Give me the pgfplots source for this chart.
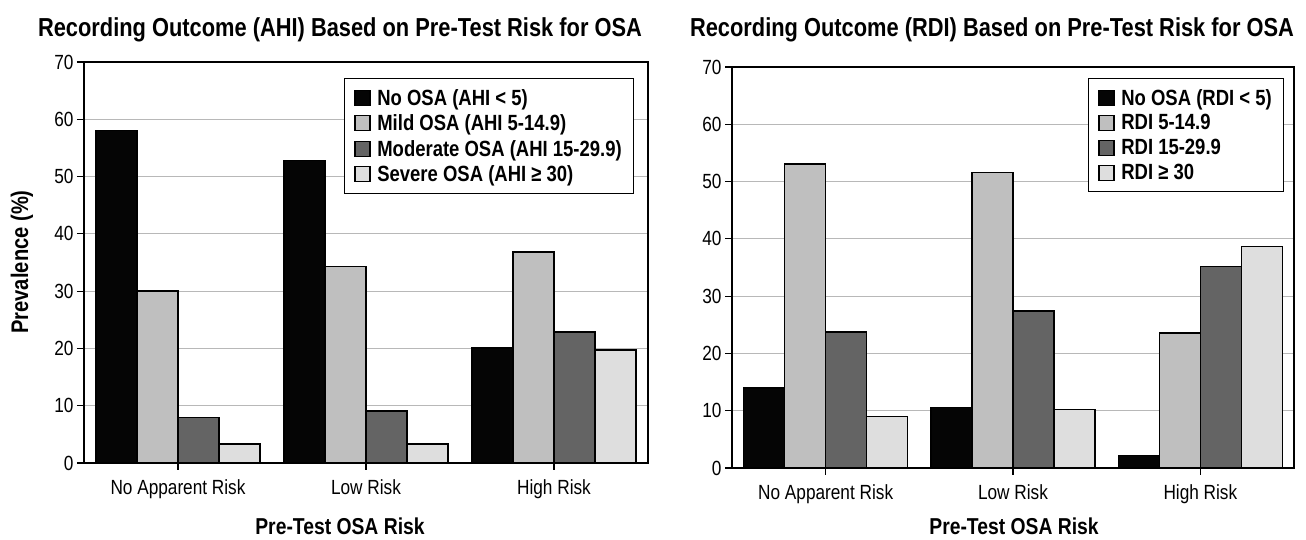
\documentclass[border=0pt]{standalone}
\usepackage{pgfplots}
\pgfplotsset{compat=1.18}
\usepackage{fontspec}
\setmainfont{Liberation Sans}[FakeStretch=0.84]
\definecolor{cNo}{HTML}{050505}
\definecolor{cMild}{HTML}{BFBFBF}
\definecolor{cMod}{HTML}{646464}
\definecolor{cSev}{HTML}{DEDEDE}
\pgfplotsset{
  sqlegend/.style={legend image code/.code={\draw[##1, line width=1.2pt] (0pt,-7.5pt) rectangle (15pt,7.5pt); \path (20pt,0pt);}},
  mystyle/.style={
    scale only axis, anchor=south west, height=401pt,
    xmin=-0.5, xmax=2.5, ymin=0, ymax=70, enlargelimits=false,
    ybar=0pt, bar width=41pt,
    xtick={0,1,2}, xticklabels={No Apparent Risk, Low Risk, High Risk},
    ytick={0,10,...,70},
    tick align=outside, xtick pos=bottom, ytick pos=left,
    major tick length=7pt,
    tick style={black, line width=1.2pt},
    axis line style={black, line width=2pt},
    ymajorgrids, grid style={color=black!28, line width=1.2pt},
    ticklabel style={font=\fontsize{20.5}{24}\selectfont},
    xticklabel style={yshift=-6pt},
    /pgf/number format/assume math mode=true,
    every axis plot post/.append style={sqlegend},
    legend cell align=left,
    legend style={draw=black, line width=1.3pt, fill=white,
      font=\bfseries\fontsize{22}{25}\selectfont,
      inner xsep=10pt, inner ysep=9pt, row sep=5pt,
      nodes={inner sep=1.5pt}},
  }
}
\begin{document}
\begin{tikzpicture}
\useasboundingbox (0,0) rectangle (1306pt,540pt);
% ---------- left chart ----------
\begin{axis}[mystyle, at={(84pt,77pt)}, width=564pt,
  legend style={at={(0.975,0.96)}, anchor=north east}]
\addplot[fill=cNo, draw=black, line width=1.5pt] coordinates {(0,58.0) (1,52.8) (2,20.1)};
\addplot[fill=cMild, draw=black, line width=1.5pt] coordinates {(0,30.0) (1,34.3) (2,36.8)};
\addplot[fill=cMod, draw=black, line width=1.5pt] coordinates {(0,7.9) (1,9.1) (2,22.9)};
\addplot[fill=cSev, draw=black, line width=1.5pt] coordinates {(0,3.3) (1,3.3) (2,19.7)};
\legend{No OSA (AHI < 5), Mild OSA (AHI 5-14.9), Moderate OSA (AHI 15-29.9), Severe OSA (AHI ≥ 30)}
\end{axis}
% ---------- right chart ----------
\begin{axis}[mystyle, at={(732pt,72pt)}, width=562pt,
  legend style={at={(0.982,0.9725)}, anchor=north east}]
\addplot[fill=cNo, draw=black, line width=1.5pt] coordinates {(0,14.0) (1,10.6) (2,2.2)};
\addplot[fill=cMild, draw=black, line width=1.5pt] coordinates {(0,53.1) (1,51.6) (2,23.6)};
\addplot[fill=cMod, draw=black, line width=1.5pt] coordinates {(0,23.7) (1,27.4) (2,35.2)};
\addplot[fill=cSev, draw=black, line width=1.5pt] coordinates {(0,9.0) (1,10.2) (2,38.7)};
\legend{No OSA (RDI < 5), RDI 5-14.9, RDI 15-29.9, RDI ≥ 30}
\end{axis}
% ---------- texts ----------
\node[anchor=base, font=\bfseries\fontsize{26}{30}\selectfont] at (340pt,503pt) {Recording Outcome (AHI) Based on Pre-Test Risk for OSA};
\node[anchor=base, font=\bfseries\fontsize{26}{30}\selectfont] at (992pt,503pt) {Recording Outcome (RDI) Based on Pre-Test Risk for OSA};
\node[rotate=90, font=\bfseries\fontsize{24}{28}\selectfont] at (22pt,278pt) {Prevalence (\%)};
\node[anchor=base, font=\bfseries\fontsize{23}{27}\selectfont] at (340pt,5pt) {Pre-Test OSA Risk};
\node[anchor=base, font=\bfseries\fontsize{23}{27}\selectfont] at (1014pt,5pt) {Pre-Test OSA Risk};
\end{tikzpicture}
\end{document}
